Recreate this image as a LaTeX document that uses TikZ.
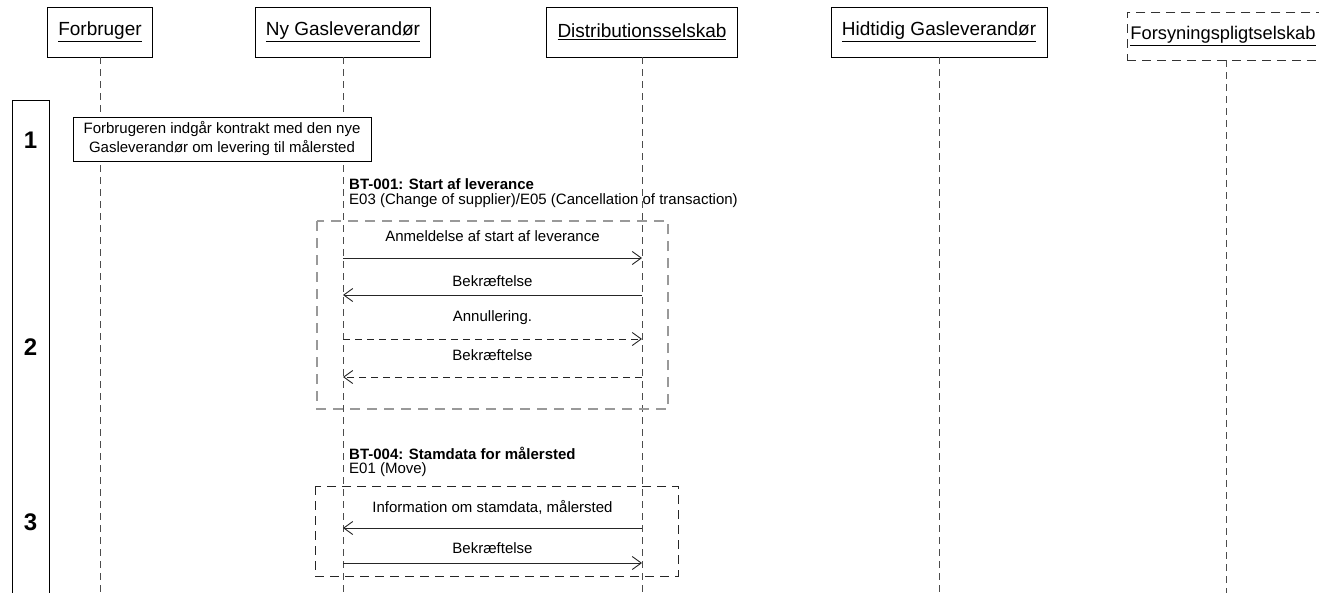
\documentclass[tikz,border=0pt]{standalone}
\usepackage{fontspec}
\setmainfont{Liberation Sans}
\usetikzlibrary{arrows.meta}
\begin{document}
\begin{tikzpicture}[x=1pt,y=-1pt,
  actor/.style={draw, line width=0.8pt, minimum height=50pt, inner sep=0pt, font=\fontsize{19}{22}\selectfont},
  life/.style={draw=black!70, line width=0.9pt, dash pattern=on 7pt off 5pt},
  msg/.style={draw=black!85, line width=0.9pt, -{Straight Barb[length=9pt,width=13pt]}},
  dmsg/.style={msg, dash pattern=on 7pt off 5pt},
  lbl/.style={font=\fontsize{15}{18}\selectfont, inner sep=0pt},
  hdr/.style={font=\fontsize{15}{18}\selectfont\bfseries, inner sep=0pt, anchor=west},
  sub/.style={font=\fontsize{15}{18}\selectfont, inner sep=0pt, anchor=west},
  num/.style={font=\fontsize{24}{28}\selectfont\bfseries, inner sep=0pt},
  grpgray/.style={draw=black!40, line width=1.2pt, dash pattern=on 10pt off 7pt},
  grpblack/.style={draw=black!85, line width=1pt, dash pattern=on 9pt off 6pt}]
\useasboundingbox (0,0) rectangle (1319,592);
\fill[white] (0,0) rectangle (1319,592);

% actors
\node[actor, minimum width=105pt] (forb) at (100,32) {\underline{Forbruger}};
\node[actor, minimum width=175pt] (ny) at (343,32) {\underline{Ny Gasleverandør}};
\node[actor, minimum width=191pt] (dist) at (642,32) {\underline{Distributionsselskab}};
\node[actor, minimum width=216pt] (hid) at (939,32) {\underline{Hidtidig Gasleverandør}};
\node[actor, draw=black!80, dash pattern=on 9pt off 6pt, anchor=west, minimum width=210pt, minimum height=48pt, text width=204pt, align=left, inner xsep=3pt, font=\fontsize{18.3}{22}\selectfont] (fors) at (1127,36) {\underline{Forsyningspligtselskab}};

% lifeline ends
\coordinate (forbE) at (100,600);
\coordinate (nyE) at (343,600);
\coordinate (distE) at (642,600);
\coordinate (hidE) at (939,600);
\coordinate (forsT) at (1226,60);
\coordinate (forsE) at (1226,600);

\draw[life] (forb.south) -- (forbE);
\draw[life] (ny.south) -- (nyE);
\draw[life] (dist.south) -- (distE);
\draw[life] (hid.south) -- (hidE);
\draw[life] (forsT) -- (forsE);

% phase column
\draw[line width=0.8pt] (12,600) -- (12,100) -- (49,100) -- (49,600);
\node[num] (n1) at (30.5,140) {1};
\node[num] (n2) at (30.5,347) {2};
\node[num] (n3) at (30.5,522) {3};

% note
\node[draw, line width=0.8pt, fill=white, minimum width=298pt, minimum height=44pt, align=center, inner sep=0pt, font=\fontsize{15}{19}\selectfont] (note) at (222,139) {Forbrugeren indgår kontrakt med den nye\\Gasleverandør om levering til målersted};

% BT-001
\node[hdr] (bt1) at (349,184) {BT-001: Start af leverance};
\node[sub] (bt1s) at (349,201) {E03 (Change of supplier)/E05 (Cancellation of transaction)};
\draw[grpgray] (317,221) rectangle (668,409);

\node[lbl] (l1) at (492.5,236) {Anmeldelse af start af leverance};
\draw[msg] (ny |- 0,258) -- (dist |- 0,258);
\node[lbl] (l2) at (492.5,281) {Bekræftelse};
\draw[msg] (dist |- 0,295) -- (ny |- 0,295);
\node[lbl] (l3) at (492.5,318) {Annullering.};
\draw[dmsg] (ny |- 0,339) -- (dist |- 0,339);
\node[lbl] (l4) at (492.5,355) {Bekræftelse};
\draw[dmsg] (dist |- 0,377) -- (ny |- 0,377);

% BT-004
\node[hdr] (bt4) at (349,453) {BT-004: Stamdata for målersted};
\node[sub] (bt4s) at (349,470) {E01 (Move)};
\draw[grpblack] (315,486) rectangle (678,576);

\node[lbl] (l5) at (492.5,507) {Information om stamdata, målersted};
\draw[msg] (dist |- 0,528) -- (ny |- 0,528);
\node[lbl] (l6) at (492.5,548) {Bekræftelse};
\draw[msg] (ny |- 0,563) -- (dist |- 0,563);
\end{tikzpicture}
\end{document}
